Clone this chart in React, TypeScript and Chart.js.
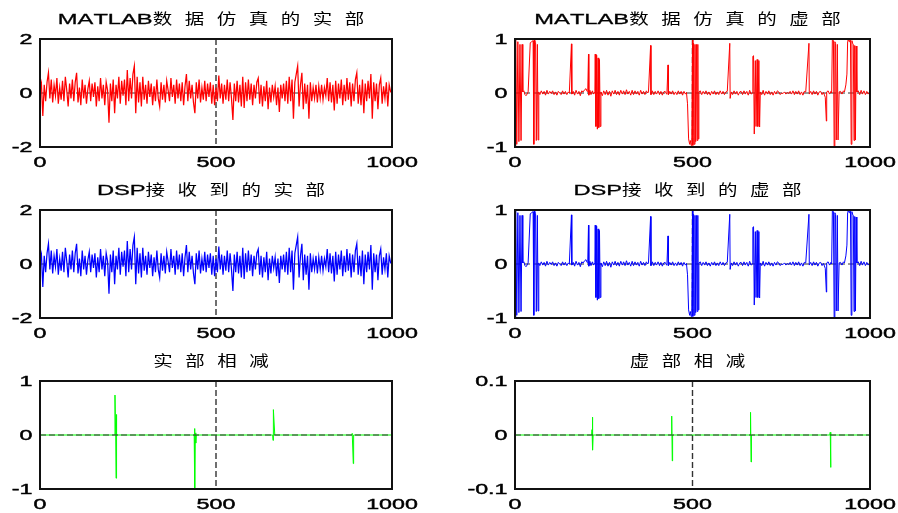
import React, { useEffect, useRef } from "react";
import { Chart, registerables } from "chart.js";
Chart.register(...registerables);

// ---------- data ----------
const X_MIN = 0;
const X_MAX = 1000;
const xTickValues = [0, 500, 1000];
const xTickLabels = ["0", "500", "1000"];

const REAL_STEP = 4; // sample spacing of realValues along x
const realValues: number[] = [
  0.1, 0.35, -0.85, 0.3, -0.3, 0.4, 0.75, -0.2, 0.5, -0.35, 0.3, -0.1, 0.55, -0.4, 0.2, -0.25, 0.45, -0.3, 0.6, 0.1, -0.5, 0.35, -0.2, 0.5, -0.3,
  0.4, 0.75, -0.35, 0.2, -0.45, 0.5, -0.2, 0.3, -0.4, 0.15, 0.45, -0.3, 0.35, -0.15, 0.4, -0.5, 0.25, -0.3, 0.55, -0.2, 0.3, -0.45, 0.4, 0.1, -1.1,
  0.35, -0.3, 0.5, -0.75, 0.3, -0.2, 0.6, -0.4, 0.45, -0.1, 0.5, -0.45, 0.85, -0.3, 0.55, -0.2, 0.7, 1.0, -0.75, 0.6, -0.35, 0.4, -0.5, 0.6, -0.25,
  0.3, -0.4, 0.45, -0.15, 0.35, -0.45, 0.25, -0.3, 0.5, -0.2, -0.5, 0.4, -0.25, 0.3, -0.35, 0.45, 0.1, -0.3, 0.55, -0.15, 0.3, -0.4, 0.5, -0.2, 0.35,
  -0.3, 0.4, -0.45, 0.25, 0.7, -0.3, 0.45, -0.2, 0.3, -0.35, -0.75, 0.4, -0.2, 0.5, -0.35, 0.2, -0.25, 0.45, -0.3, 0.35, -0.15, 0.4, -0.4, 0.3, -0.45,
  0.2, -0.3, 0.65, -0.2, 0.35, -0.4, 0.3, -0.25, 0.5, -0.3, 0.4, -0.2, -1.0, 0.35, -0.3, 0.45, -0.35, 0.3, -0.5, 0.6, -0.55, 0.4, -0.3, 0.5, -0.25,
  0.35, -0.45, 0.3, -0.2, 0.4, 0.55, -0.4, 0.3, -0.5, 0.25, -0.3, 0.45, -0.6, 0.2, -0.35, 0.3, -0.15, 0.25, -0.45, 0.2, -0.7, 0.3, -0.2, 0.35, -0.3,
  0.45, -0.4, 0.6, -0.3, 0.5, -0.95, 0.4, 0.7, 1.0, -0.5, 0.3, 0.75, -0.6, 0.35, -0.4, 0.3, -0.95, 0.4, -0.3, 0.2, -0.2, 0.3, -0.35, 0.25, -0.2,
  0.3, -0.25, 0.2, -0.1, 0.55, -0.3, 0.4, -0.35, 0.3, -0.65, 0.45, -0.4, 0.35, -0.2, 0.5, -0.45, 0.3, -0.3, 0.55, -0.25, 0.4, -0.5, 0.35, -0.3, 0.5,
  0.75, -0.4, 0.3, -0.45, 0.5, -0.75, 0.35, -0.3, 0.45, -0.2, 0.7, -0.95, 0.4, -0.3, 0.35, -0.6, 0.3, 0.55, -0.4, 0.25, -0.2, 0.4, -0.5, 0.3, 0.05, 0.0,
];

const imagSamples: [number, number][] = [
  [0, -1.0], [2, 1.0], [5, -0.95], [8, 0.95], [11, -0.9], [14, 0.9], [17, -0.88], [20, 0.9], [22, 0.02],
  [25, 0.04], [28, -0.03], [31, -0.05], [34, -0.02], [37, 0.02],
  [43, 0.93], [47, 0.95], [51, 0.97], [53, -0.95], [55, 1.0], [58, 0.93], [60, -0.88], [63, 0.9], [65, -0.87], [67, 0.02],
  [70, -0.03], [74, 0.04], [78, -0.02], [82, 0.03], [86, -0.04], [90, 0.05], [94, -0.02], [98, 0.03], [102, -0.01], [106, 0.04],
  [110, -0.03], [114, 0.02], [118, -0.04], [122, 0.03], [126, 0.0], [130, -0.03], [134, 0.04], [138, -0.02], [142, 0.03], [146, -0.03],
  [150, 0.02], [153, 0.0],
  [159, 0.91], [160, -0.02],
  [164, 0.03], [168, -0.04], [172, 0.05], [176, -0.02], [180, 0.03], [184, -0.05], [188, 0.04], [192, 0.02], [196, 0.06], [200, 0.08], [203, 0.03], [205, 0.05],
  [207, 0.72], [208, -0.04],
  [211, 0.05], [214, -0.03], [218, 0.04], [222, -0.02], [225, 0.02],
  [226, 0.72], [228, -0.62], [230, 0.7], [232, -0.67], [234, 0.65], [236, -0.64], [238, 0.62], [240, -0.62], [242, 0.02],
  [246, -0.05], [250, 0.04], [254, -0.03], [258, 0.05], [262, -0.04], [266, 0.03], [270, -0.06], [274, 0.04], [278, -0.02], [282, 0.05],
  [286, -0.03], [290, 0.03], [294, -0.04], [298, 0.05], [302, -0.02], [306, 0.04], [310, -0.03], [314, 0.06], [318, -0.02], [322, 0.03],
  [326, -0.04], [330, 0.05], [334, -0.03], [338, 0.04], [342, -0.02], [346, 0.03], [350, -0.04], [354, 0.05], [358, -0.02], [362, 0.03],
  [366, -0.03], [370, 0.04], [374, 0.0],
  [376, 0.02], [382, 0.88], [383, -0.03],
  [387, 0.04], [391, -0.03], [395, 0.03], [399, -0.02], [403, 0.04], [407, -0.03], [411, 0.03], [415, -0.04], [419, 0.02], [423, 0.03], [427, -0.02], [428, 0.0],
  [431, 0.52], [432, -0.03],
  [436, 0.03], [440, -0.02], [444, 0.04], [448, -0.03], [452, 0.02], [456, -0.03], [460, 0.04], [464, -0.02], [468, 0.03], [472, -0.04],
  [476, 0.03], [480, -0.02], [483, 0.01],
  [486, -0.2], [489, -0.85], [492, -0.95], [494, -0.88], [496, -0.97], [498, -0.92], [500, 1.0], [501, -0.97], [503, 0.92], [505, -0.95],
  [507, 0.9], [509, -0.9], [511, 0.9], [513, -0.88], [515, 0.9], [516, -0.85], [518, 0.02],
  [522, 0.04], [526, -0.03], [530, 0.03], [534, -0.02], [538, 0.04], [542, -0.03], [546, 0.02], [550, -0.04], [554, 0.03], [558, -0.02],
  [562, 0.04], [566, -0.03], [570, 0.02], [574, -0.03], [578, 0.04], [582, -0.02], [586, 0.03], [590, -0.03], [594, 0.02], [598, 0.03],
  [605, 0.92], [606, -0.1], [609, 0.02],
  [613, -0.03], [617, 0.04], [621, -0.02], [625, 0.03], [629, -0.04], [633, 0.02], [637, 0.03], [641, -0.03], [645, 0.04], [649, -0.02],
  [653, 0.03], [657, -0.04], [661, 0.05], [665, -0.02], [669, 0.0],
  [670, 0.68], [672, 0.69], [674, -0.76], [677, 0.6], [679, -0.62], [682, 0.62], [684, -0.62], [687, 0.6], [689, -0.63], [691, 0.02],
  [695, -0.03], [699, 0.05], [703, -0.04], [707, 0.03], [711, -0.02], [715, 0.04], [719, -0.03], [723, 0.02], [727, -0.04], [731, 0.03],
  [735, -0.02], [739, 0.04], [743, 0.02], [747, -0.03], [751, 0.0], [755, -0.01], [759, 0.02], [763, -0.02], [767, 0.01], [771, -0.01],
  [775, 0.03], [779, -0.02], [783, 0.04], [787, -0.03], [791, 0.03], [795, -0.02], [799, 0.04], [803, -0.03], [807, 0.02], [811, -0.04],
  [815, 0.03], [819, 0.02],
  [828, 0.92], [829, -0.02],
  [833, 0.03], [837, -0.03], [841, 0.04], [845, -0.02], [849, 0.03], [853, -0.04], [857, 0.02], [861, 0.03], [865, -0.03], [869, 0.01],
  [874, -0.08], [877, -0.52], [878, 0.02],
  [882, 0.04], [886, -0.02], [890, 0.03], [892, 0.0],
  [894, 1.0], [897, 0.97], [899, -1.0], [901, 0.95], [903, 0.92], [905, -0.87], [908, 0.9], [910, -0.87], [913, 0.02],
  [917, 0.03], [921, -0.02], [925, 0.04], [928, 0.02],
  [932, 0.15], [935, 0.35], [937, 0.95], [939, 1.0], [941, 0.95], [943, 1.0], [945, 0.98], [947, -0.95], [949, 0.97], [951, 0.92],
  [953, 0.9], [955, -0.88], [957, 0.88], [959, -0.87], [961, 0.87], [963, 0.02],
  [967, 0.04], [971, -0.03], [975, 0.05], [979, -0.02], [983, 0.04], [987, -0.03], [991, 0.03], [995, -0.02], [1000, 0.02],
];

const realDiffSamples: [number, number][] = [
  [0, 0], [212, 0], [213, 0.74], [215, 0.0], [216, -0.8], [217, 0.38], [218, 0],
  [438, 0], [439, 0.12], [440, -1.0], [441, 0], [442, 0.04], [443, -0.15], [444, 0],
  [661, 0], [662, -0.1], [663, 0.47], [667, 0],
  [886, 0], [887, 0.03], [890, -0.53], [891, 0], [1000, 0],
];

const imagDiffSamples: [number, number][] = [
  [0, 0], [216, 0], [217, 0.01], [218, 0.033], [219, -0.028], [220, 0],
  [440, 0], [441, 0.005], [442, 0.035], [443, -0.048], [444, 0],
  [662, 0], [663, 0.008], [664, 0.042], [665, -0.05], [666, 0],
  [887, 0], [888, 0.005], [889, -0.06], [890, 0], [1000, 0],
];

const titles = [
  "MATLAB数 据 仿 真 的 实 部",
  "MATLAB数 据 仿 真 的 虚 部",
  "DSP接 收 到 的 实 部",
  "DSP接 收 到 的 虚 部",
  "实 部 相 减",
  "虚 部 相 减",
];

const yTicksReal = [-2, 0, 2];
const yLabelsReal = ["-2", "0", "2"];
const yTicksUnit = [-1, 0, 1];
const yLabelsUnit = ["-1", "0", "1"];
const yTicksSmall = [-0.1, 0, 0.1];
const yLabelsSmall = ["-0.1", "0", "0.1"];

// ---------- drawing helpers ----------
const LATIN = '"Liberation Sans", Arial, sans-serif';
const CJK = '"Noto Sans CJK SC", "Noto Sans CJK JP", sans-serif';
const FONT_PX = 15;
const LATIN_SX = 1.58;
const CJK_SX = 1.3;
const TITLE_GAP = 12.5;
const TICK_SX = 1.55;
const TITLE_STROKE = 0.3;
const TICK_STROKE = 0.45;

const isCJK = (ch: string) => /[\u3400-\u9fff]/.test(ch);

function drawTitle(ctx: CanvasRenderingContext2D, text: string, cx: number, baseline: number) {
  const parts: { ch: string; w: number; sx: number; font: string; space: boolean; cjk: boolean }[] = [];
  let total = 0;
  for (const ch of Array.from(text)) {
    if (ch === " ") {
      parts.push({ ch, w: TITLE_GAP, sx: 1, font: "", space: true, cjk: false });
      total += TITLE_GAP;
      continue;
    }
    const cjk = isCJK(ch);
    const font = `${FONT_PX}px ${cjk ? CJK : LATIN}`;
    const sx = cjk ? CJK_SX : LATIN_SX;
    ctx.font = font;
    const w = ctx.measureText(ch).width * sx;
    parts.push({ ch, w, sx, font, space: false, cjk });
    total += w;
  }
  let x = cx - total / 2;
  ctx.save();
  ctx.fillStyle = "#000";
  ctx.strokeStyle = "#000";
  ctx.lineWidth = TITLE_STROKE;
  ctx.textAlign = "left";
  ctx.textBaseline = "alphabetic";
  for (const p of parts) {
    if (!p.space) {
      ctx.save();
      ctx.font = p.font;
      ctx.translate(x, baseline);
      ctx.scale(p.sx, 1);
      ctx.fillText(p.ch, 0, 0);
      if (!p.cjk) ctx.strokeText(p.ch, 0, 0);
      ctx.restore();
    }
    x += p.w;
  }
  ctx.restore();
}

function drawTick(ctx: CanvasRenderingContext2D, text: string, x: number, baseline: number, align: "right" | "center") {
  ctx.save();
  ctx.font = `${FONT_PX}px ${LATIN}`;
  ctx.fillStyle = "#000";
  ctx.strokeStyle = "#000";
  ctx.lineWidth = TICK_STROKE;
  ctx.textAlign = "left";
  ctx.textBaseline = "alphabetic";
  const w = ctx.measureText(text).width * TICK_SX;
  const x0 = align === "right" ? x - w : x - w / 2;
  ctx.translate(x0, baseline);
  ctx.scale(TICK_SX, 1);
  ctx.fillText(text, 0, 0);
  ctx.strokeText(text, 0, 0);
  ctx.restore();
}

type PanelProps = {
  title: string;
  color: string;
  lineWidth: number;
  points: { x: number; y: number }[];
  yMin: number;
  yMax: number;
  yTicks: number[];
  yLabels: string[];
  rect: [number, number, number, number]; // left, top, right, bottom of plot box
  pad: [number, number, number, number]; // left, top, right, bottom canvas padding
  zeroOver: boolean;
};

function Panel(props: PanelProps) {
  const ref = useRef<HTMLCanvasElement | null>(null);
  const [l, t, r, b] = props.rect;
  const [pl, pt, pr, pb] = props.pad;
  const cw = r - l + pl + pr;
  const ch = b - t + pt + pb;

  useEffect(() => {
    if (!ref.current) return;
    const dash = (chart: any, vertical: boolean) => {
      const ctx = chart.ctx as CanvasRenderingContext2D;
      const a = chart.chartArea;
      ctx.save();
      ctx.strokeStyle = "#333";
      ctx.lineWidth = vertical ? 1.4 : 1;
      ctx.setLineDash([6, 3]);
      ctx.beginPath();
      if (vertical) {
        const px = chart.scales.x.getPixelForValue(500);
        ctx.moveTo(px, a.top);
        ctx.lineTo(px, a.bottom);
      } else {
        const py = chart.scales.y.getPixelForValue(0);
        ctx.moveTo(a.left, py);
        ctx.lineTo(a.right, py);
      }
      ctx.stroke();
      ctx.restore();
    };
    const deco = {
      id: "deco",
      beforeDatasetsDraw(chart: any) {
        dash(chart, true);
        if (!props.zeroOver) dash(chart, false);
      },
      afterDatasetsDraw(chart: any) {
        if (props.zeroOver) dash(chart, false);
        const ctx = chart.ctx as CanvasRenderingContext2D;
        const a = chart.chartArea;
        ctx.save();
        ctx.strokeStyle = "#111";
        ctx.lineWidth = 2;
        ctx.setLineDash([]);
        ctx.strokeRect(a.left, a.top, a.right - a.left, a.bottom - a.top);
        ctx.restore();
        props.yTicks.forEach((v, i) => {
          const py = chart.scales.y.getPixelForValue(v);
          drawTick(ctx, props.yLabels[i], a.left - 7.5, py + 5.4, "right");
        });
        xTickValues.forEach((v, i) => {
          const px = chart.scales.x.getPixelForValue(v);
          drawTick(ctx, xTickLabels[i], px, a.bottom + 20, "center");
        });
        drawTitle(ctx, props.title, (a.left + a.right) / 2 - 5, a.top - 15.5);
      },
    };
    const chart = new Chart(ref.current, {
      type: "line",
      data: {
        datasets: [
          {
            data: props.points,
            borderColor: props.color,
            borderWidth: props.lineWidth,
            pointRadius: 0,
            fill: false,
            tension: 0,
          },
        ],
      },
      options: {
        responsive: false,
        animation: false,
        events: [],
        layout: { padding: { left: pl, top: pt, right: pr, bottom: pb } },
        scales: {
          x: { type: "linear", min: X_MIN, max: X_MAX, display: false },
          y: { type: "linear", min: props.yMin, max: props.yMax, display: false },
        },
        plugins: { legend: { display: false }, tooltip: { enabled: false }, title: { display: false } },
      },
      plugins: [deco],
    } as any);
    return () => chart.destroy();
  }, []);

  return (
    <canvas
      ref={ref}
      width={cw}
      height={ch}
      style={{ position: "absolute", left: l - pl, top: t - pt, width: cw, height: ch }}
    />
  );
}

const toPoints = (s: [number, number][]) => s.map(([x, y]) => ({ x, y }));
const realPoints = realValues.map((y, i) => ({ x: i * REAL_STEP, y }));
const imagPoints = toPoints(imagSamples);

export default function App() {
  useEffect(() => {
    document.body.style.margin = "0";
    document.body.style.background = "#fff";
  }, []);
  const L: [number, number] = [40, 392];
  const R: [number, number] = [515, 870];
  const rows: [number, number][] = [
    [39, 147],
    [210, 318],
    [381, 489],
  ];
  const padL: [number, number, number, number] = [40, 39, 30, 24];
  const padR: [number, number, number, number] = [60, 39, 28, 24];
  return (
    <div style={{ position: "relative", width: 898, height: 513, overflow: "hidden", background: "#fff" }}>
      <Panel title={titles[0]} color="#ff0000" lineWidth={1.25} points={realPoints} yMin={-2} yMax={2} yTicks={yTicksReal} yLabels={yLabelsReal}
        rect={[L[0], rows[0][0], L[1], rows[0][1]]} pad={padL} zeroOver={false} />
      <Panel title={titles[1]} color="#ff0000" lineWidth={1} points={imagPoints} yMin={-1} yMax={1} yTicks={yTicksUnit} yLabels={yLabelsUnit}
        rect={[R[0], rows[0][0], R[1], rows[0][1]]} pad={padR} zeroOver={false} />
      <Panel title={titles[2]} color="#0000ff" lineWidth={1.25} points={realPoints} yMin={-2} yMax={2} yTicks={yTicksReal} yLabels={yLabelsReal}
        rect={[L[0], rows[1][0], L[1], rows[1][1]]} pad={[40, 38, 30, 24]} zeroOver={false} />
      <Panel title={titles[3]} color="#0000ff" lineWidth={1} points={imagPoints} yMin={-1} yMax={1} yTicks={yTicksUnit} yLabels={yLabelsUnit}
        rect={[R[0], rows[1][0], R[1], rows[1][1]]} pad={[60, 38, 28, 24]} zeroOver={false} />
      <Panel title={titles[4]} color="#00ff00" lineWidth={1} points={toPoints(realDiffSamples)} yMin={-1} yMax={1} yTicks={yTicksUnit} yLabels={yLabelsUnit}
        rect={[L[0], rows[2][0], L[1], rows[2][1]]} pad={[40, 38, 30, 24]} zeroOver={true} />
      <Panel title={titles[5]} color="#00ff00" lineWidth={1} points={toPoints(imagDiffSamples)} yMin={-0.1} yMax={0.1} yTicks={yTicksSmall} yLabels={yLabelsSmall}
        rect={[R[0], rows[2][0], R[1], rows[2][1]]} pad={[60, 38, 28, 24]} zeroOver={true} />
    </div>
  );
}
